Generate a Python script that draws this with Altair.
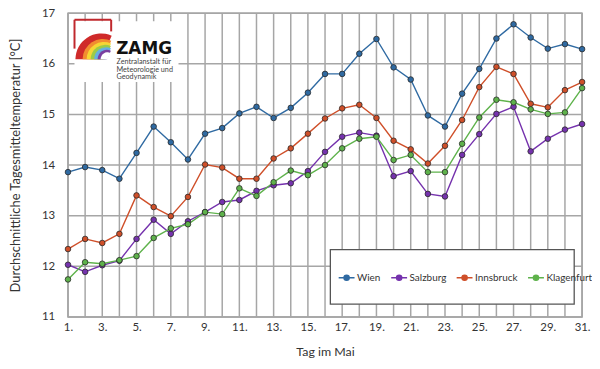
import altair as alt
import pandas as pd

# ---------------- data ----------------
days = [1, 2, 3, 4, 5, 6, 7, 8, 9, 10, 11, 12, 13, 14, 15, 16,
        17, 18, 19, 20, 21, 22, 23, 24, 25, 26, 27, 28, 29, 30, 31]
label_days = [1, 3, 5, 7, 9, 11, 13, 15, 17, 19, 21, 23, 25, 27, 29, 31]
wien = [13.86, 13.96, 13.90, 13.73, 14.24, 14.76, 14.45, 14.11, 14.62, 14.73,
        15.02, 15.15, 14.93, 15.13, 15.43, 15.80, 15.80, 16.20, 16.49, 15.93,
        15.69, 14.98, 14.76, 15.41, 15.90, 16.50, 16.78, 16.52, 16.30, 16.39, 16.29]
salzburg = [12.03, 11.89, 12.02, 12.11, 12.54, 12.92, 12.64, 12.89, 13.07, 13.27,
            13.31, 13.49, 13.60, 13.64, 13.88, 14.26, 14.56, 14.64, 14.58, 13.78,
            13.88, 13.43, 13.38, 14.20, 14.61, 15.01, 15.15, 14.27, 14.52, 14.70, 14.81]
innsbruck = [12.34, 12.54, 12.46, 12.64, 13.40, 13.17, 12.99, 13.37, 14.01, 13.95,
             13.73, 13.73, 14.13, 14.33, 14.62, 14.92, 15.12, 15.19, 14.93, 14.48,
             14.31, 14.03, 14.38, 14.89, 15.54, 15.94, 15.80, 15.21, 15.14, 15.48, 15.64]
klagenfurt = [11.74, 12.08, 12.05, 12.12, 12.20, 12.56, 12.75, 12.83, 13.07, 13.03,
              13.54, 13.39, 13.66, 13.89, 13.80, 14.00, 14.33, 14.52, 14.56, 14.10,
              14.20, 13.86, 13.86, 14.42, 14.94, 15.29, 15.24, 15.10, 15.01, 15.04, 15.52]
stations = ["Wien", "Salzburg", "Innsbruck", "Klagenfurt"]
colors = ["#2f6aa2", "#7532ad", "#cf4f29", "#5eb24b"]
y_ticks = [11, 12, 13, 14, 15, 16, 17]

logo_lines = ["Zentralanstalt für", "Meteorologie und", "Geodynamik"]
rainbow_colors = ["#cf2a2a", "#f28c30", "#f6d634", "#9ccb48", "#66b0e0", "#7a3ea0", "#ffffff"]
rainbow_radius = [26, 20.5, 17.5, 14.5, 12, 9.5, 7]
rainbow_center = [2.94, 3.04, 3.10, 3.16, 3.22, 3.28, 3.31]

# ---------------- tables ----------------
rows = []
for name, vals in zip(stations, [wien, salzburg, innsbruck, klagenfurt]):
    for d, v in zip(days, vals):
        rows.append({"Tag": d, "Temp": v, "Station": name})
df = pd.DataFrame(rows)

FONT = "Lato"
SYMBOL = "M-1,0L1,0M0.33,0A0.33,0.33,0,1,1,-0.33,0A0.33,0.33,0,1,1,0.33,0Z"
GRID = "#a6a6a6"

x_scale = alt.Scale(domain=[1, 31], nice=False, zero=False)
y_scale = alt.Scale(domain=[11, 17], nice=False, zero=False)
x_axis = alt.Axis(values=label_days, labelExpr="datum.value + '.'",
                  title="Tag im Mai", grid=False, ticks=False, domain=False,
                  labelOverlap=False, labelFlush=False, labelPadding=5,
                  titlePadding=12, labelFontSize=11.5, titleFontSize=12.5)
y_axis = alt.Axis(values=y_ticks, title="Durchschnittliche Tagesmitteltemperatur [°C]",
                  grid=False, ticks=False, domain=False, labelPadding=13.5,
                  labelOverlap=False, titlePadding=19, labelFontSize=11.5,
                  titleFontSize=13)


def X(field="Tag"):
    return alt.X(f"{field}:Q", scale=x_scale, axis=x_axis)


def Y(field="Temp"):
    return alt.Y(f"{field}:Q", scale=y_scale, axis=y_axis)


legend = alt.Legend(orient="none", legendX=272, legendY=257.5, direction="horizontal",
                    columns=4, title=None, symbolType=SYMBOL, symbolSize=256,
                    symbolStrokeWidth=1.4, labelFont=FONT, labelFontSize=10,
                    labelFontWeight="normal", labelColor="#333333", labelLimit=200,
                    labelOffset=1.5, columnPadding=7, padding=0)
color = alt.Color("Station:N", scale=alt.Scale(domain=stations, range=colors),
                  legend=legend)

# ---------------- grid (drawn through the scales) ----------------
vgrid = alt.Chart(pd.DataFrame({"Tag": days})).mark_rule(
    color=GRID, strokeWidth=1.5).encode(x=X())
hgrid = alt.Chart(pd.DataFrame({"Temp": y_ticks})).mark_rule(
    color=GRID, strokeWidth=1.5).encode(y=Y())

# background box for logo (hides grid lines)
logo_box = alt.Chart(pd.DataFrame({"Tag": [1.38], "Tag2": [7.45],
                                   "Temp": [16.84], "Temp2": [15.64]})).mark_rect(
    fill="white").encode(x=X(), x2="Tag2:Q", y=Y(), y2="Temp2:Q")

legend_box = alt.Chart(pd.DataFrame({"Tag": [16.31], "Tag2": [30.54],
                                     "Temp": [12.33], "Temp2": [11.25]})).mark_rect(
    fill="white", stroke="#555555", strokeWidth=1.3).encode(
    x=X(), x2="Tag2:Q", y=Y(), y2="Temp2:Q")

lines = alt.Chart(df).mark_line(strokeWidth=1.4).encode(
    x=X(), y=Y(), color=color)

points = alt.Chart(df).mark_point(filled=True, size=32, stroke="#2a2a2a",
                                  strokeWidth=0.8, opacity=1).encode(
    x=X(), y=Y(), color=color)

# ---------------- logo ----------------
frame = alt.Chart(pd.DataFrame({
    "Tag": [1.38, 1.38, 3.52], "Tag2": [3.52, 1.38, 3.52],
    "Temp": [16.87, 16.87, 16.87], "Temp2": [16.87, 16.30, 16.64]})).mark_rule(
    color="#c0282d", strokeWidth=2).encode(x=X(), x2="Tag2:Q", y=Y(), y2="Temp2:Q")

rings = []
for cx, r, c in zip(rainbow_center, rainbow_radius, rainbow_colors):
    rings.append(
        alt.Chart(pd.DataFrame({"Tag": [cx], "Temp": [16.09]})).mark_arc(
            theta=4.712, theta2=6.70, radius=r, fill=c, stroke=None
        ).encode(x=X(), y=Y())
    )

zamg = alt.Chart(pd.DataFrame({"Tag": [3.81], "Temp": [16.20], "t": ["ZAMG"]})).mark_text(
    align="left", baseline="alphabetic", font="DejaVu Sans", fontWeight="bold",
    fontSize=17, color="#111111").encode(x=X(), y=Y(), text="t:N")

sub = alt.Chart(pd.DataFrame({"Tag": [3.83] * 3, "Temp": [15.99, 15.84, 15.69],
                              "t": logo_lines})).mark_text(
    align="left", baseline="alphabetic", font=FONT, fontSize=7.3,
    color="#444444").encode(x=X(), y=Y(), text="t:N")

chart = alt.layer(vgrid, hgrid, logo_box, legend_box, lines, points,
                  frame, *rings, zamg, sub).properties(
    width=518.5, height=306.3,
    autosize=alt.AutoSizeParams(type="none"),
    padding={"left": 60.5, "top": 3.7, "right": 10, "bottom": 47},
).configure_view(
    stroke="#9c9c9c", strokeWidth=1.5
).configure_axis(
    labelFont=FONT, titleFont=FONT,
    labelColor="#333333", titleColor="#333333", titleFontWeight="normal"
)

chart.save("out.html", embed_options={"renderer": "svg", "actions": False})
